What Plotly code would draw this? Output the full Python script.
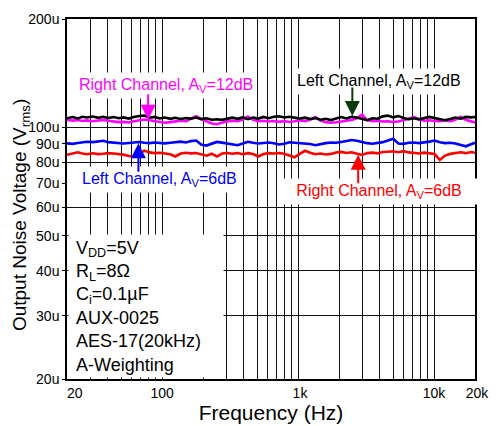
import plotly.graph_objects as go
import math

# ---------------- data ----------------
freq_hz = [20, 22, 24, 26, 28, 31, 34, 37, 40, 44, 48, 52, 57, 62, 68, 74, 81, 88, 96, 105,
           115, 125, 137, 150, 163, 178, 194, 212, 232, 253, 276, 301, 329, 359, 392, 428, 467, 510, 557, 608,
           664, 725, 791, 864, 943, 1030, 1124, 1227, 1340, 1463, 1597, 1744, 1904, 2078, 2269, 2477, 2705, 2953, 3224, 3520,
           3843, 4196, 4581, 5002, 5461, 5962, 6510, 7107, 7760, 8472, 9250, 10099, 11026, 12038, 13143, 14350, 15667, 17105, 18675, 20000]

left_12db_uv = [106.0, 106.8, 105.9, 107.0, 106.5, 107.2, 106.3, 107.0, 106.1, 106.8,
                106.0, 106.6, 105.8, 106.9, 107.5, 107.8, 106.4, 106.9, 105.9, 106.5,
                105.6, 106.3, 105.5, 106.2, 105.8, 106.5, 105.4, 106.0, 105.0, 105.3,
                104.9, 105.9, 106.4, 105.6, 106.6, 105.4, 106.5, 105.8, 106.9, 106.0,
                107.0, 107.3, 106.5, 107.0, 106.2, 105.8, 106.4, 105.5, 106.1, 105.0,
                105.6, 104.8, 105.9, 106.8, 105.9, 107.0, 106.5, 105.6, 104.7, 106.0,
                105.7, 107.3, 107.8, 106.6, 107.5, 106.2, 105.4, 106.0, 105.3, 106.2,
                106.9, 106.1, 105.2, 104.7, 105.5, 106.5, 105.7, 106.9, 106.6, 106.9]

right_12db_uv = [104.9, 104.4, 104.8, 104.2, 104.6, 104.0, 104.5, 104.9, 104.3, 103.9,
                 103.4, 103.6, 103.2, 104.0, 104.6, 105.2, 104.7, 104.0, 103.5, 103.0,
                 103.4, 104.1, 104.4, 104.0, 105.6, 107.4, 105.5, 103.9, 102.5, 102.0,
                 103.0, 104.0, 104.3, 104.0, 105.2, 107.2, 105.0, 104.0, 104.3, 103.8,
                 104.2, 103.6, 104.1, 103.5, 104.0, 104.6, 104.1, 105.0, 106.8, 104.5,
                 103.4, 103.0, 103.3, 103.9, 104.2, 104.8, 106.0, 108.6, 104.8, 104.0,
                 104.4, 103.8, 104.0, 103.5, 103.8, 104.5, 105.6, 106.9, 105.2, 104.4,
                 104.7, 104.2, 104.0, 104.5, 104.1, 105.0, 107.0, 105.0, 103.8, 103.2]

left_6db_uv = [90.3, 90.0, 90.5, 90.9, 91.2, 91.0, 91.4, 91.8, 91.0, 90.6,
               90.4, 90.2, 90.5, 90.7, 91.1, 90.6, 90.4, 90.8, 90.5, 90.3,
               90.6, 90.9, 91.3, 90.8, 91.6, 91.9, 89.6, 89.0, 90.2, 91.1,
               90.7, 90.3, 89.6, 89.2, 90.2, 91.2, 90.6, 90.2, 90.5, 90.8,
               90.3, 89.6, 90.0, 90.9, 90.6, 90.5, 90.3, 89.9, 89.2, 90.0,
               90.4, 90.8, 90.6, 91.1, 91.6, 92.2, 91.8, 91.0, 90.4, 90.1,
               90.6, 91.0, 92.0, 93.0, 90.2, 90.0, 90.6, 90.8, 90.4, 90.7,
               91.3, 91.9, 90.9, 90.4, 90.6, 90.2, 89.5, 88.6, 89.8, 90.6]

right_6db_uv = [83.9, 84.8, 85.3, 84.6, 84.2, 84.7, 84.3, 84.5, 84.8, 84.6,
                84.3, 84.0, 83.3, 82.8, 84.5, 86.2, 85.2, 84.8, 85.0, 84.6,
                84.2, 83.0, 84.6, 85.0, 84.7, 84.9, 84.3, 83.4, 84.5, 83.0,
                84.6, 84.9, 84.5, 84.9, 84.2, 84.8, 84.3, 83.0, 84.3, 84.8,
                84.6, 84.9, 84.5, 83.5, 82.6, 84.4, 86.1, 85.0, 84.2, 84.6,
                84.1, 84.4, 85.2, 85.5, 84.9, 85.3, 84.6, 83.8, 84.8, 85.1,
                84.7, 85.4, 85.6, 85.8, 85.3, 85.9, 85.2, 84.9, 84.6, 85.1,
                84.7, 84.3, 81.2, 83.5, 84.4, 84.9, 85.3, 84.8, 85.4, 85.0]

x_tick_vals = [20, 30, 40, 50, 60, 70, 80, 90, 100, 200, 300, 400, 500, 600, 700, 800, 900,
               1000, 2000, 3000, 4000, 5000, 6000, 7000, 8000, 9000, 10000, 20000]
x_tick_text = ["\u00a0\u00a0\u00a0\u00a020", "", "", "", "", "", "", "", "100", "", "", "", "", "", "", "", "",
               "\u00a01k", "", "", "", "", "", "", "", "", "10k", "\u00a020k"]
y_tick_vals = [20, 30, 40, 50, 60, 70, 80, 90, 100, 200]
y_tick_text = ["20u", "30u", "40u", "50u", "60u", "70u", "80u", "90u", "100u", "200u"]
y_grid_vals = [30, 40, 50, 60, 80, 100]

FONT = "Liberation Sans, Arial, sans-serif"

fig = go.Figure()
series = [
    (right_12db_uv, "#ff00ff", "Right Channel, AV=12dB"),
    (left_12db_uv, "#000000", "Left Channel, AV=12dB"),
    (left_6db_uv, "#0000ff", "Left Channel, AV=6dB"),
    (right_6db_uv, "#ff0000", "Right Channel, AV=6dB"),
]
for vals, col, name in series:
    fig.add_trace(go.Scatter(x=freq_hz, y=vals, mode="lines", name=name,
                             line=dict(color=col, width=2.6), showlegend=False))

fig.update_xaxes(type="log", range=[math.log10(20), math.log10(20000)],
                 tickmode="array", tickvals=x_tick_vals, ticktext=x_tick_text,
                 showgrid=True, gridcolor="#111111", gridwidth=1,
                 ticks="", tickfont=dict(family=FONT, size=14, color="black"),
                 showline=True, linecolor="black", linewidth=1.5, mirror=True,
                 zeroline=False,
                 title=dict(text="Frequency (Hz)", font=dict(family=FONT, size=21, color="black"), standoff=0))
fig.update_yaxes(type="log", range=[math.log10(20), math.log10(200)],
                 tickmode="array", tickvals=y_tick_vals, ticktext=y_tick_text,
                 showgrid=False, ticks="outside", ticklen=3, tickcolor="black",
                 tickfont=dict(family=FONT, size=14, color="black"),
                 minor=dict(tickmode="array", tickvals=y_grid_vals, showgrid=True,
                            gridcolor="#111111", gridwidth=1, ticks=""),
                 showline=True, linecolor="black", linewidth=1.5, mirror=True,
                 zeroline=False)

# y-axis title
fig.add_annotation(text="Output Noise Voltage (V<sub>rms</sub>)", textangle=-90,
                   x=-0.113, y=0.455, xref="paper", yref="paper", xanchor="center", yanchor="middle",
                   showarrow=False, font=dict(family=FONT, size=19, color="black"))

def label(text, x, y, color, xanchor="center"):
    fig.add_annotation(text=text, x=x, y=y, xref="paper", yref="paper", showarrow=False,
                       xanchor=xanchor, yanchor="middle", bgcolor="white", borderpad=3,
                       font=dict(family=FONT, size=16, color=color))

def arrow(f, v, ay, color):
    fig.add_annotation(text="", x=math.log10(f), y=math.log10(v), xref="x", yref="y",
                       showarrow=True, ax=0, ay=ay, arrowhead=2, arrowsize=1.5,
                       arrowwidth=2, arrowcolor=color)

label("Right Channel, A<sub>V</sub>=12dB", 0.243, 0.815, "#ff00ff")
label("Left Channel, A<sub>V</sub>=12dB", 0.764, 0.826, "black")
label("Left Channel, A<sub>V</sub>=6dB", 0.226, 0.553, "#0000ff")
label("\u00a0\u00a0\u00a0Right Channel, A<sub>V</sub>=6dB\u00a0\u00a0\u00a0", 0.764, 0.52, "#ff0000")

arrow(79, 105.0, -27, "#ff00ff")
arrow(2507, 107.6, -30, "#0a3a0a")
arrow(67, 90.3, 30, "#0000ff")
arrow(2768, 83.9, 30, "#ff0000")

box_lines = ["V<sub>DD</sub>=5V", "R<sub>L</sub>=8Ω", "C<sub>i</sub>=0.1µF",
             "AUX-0025", "AES-17(20kHz)", "A-Weighting"]
fig.add_annotation(text="<br>".join("\u00a0" + s for s in box_lines),
                   x=0.003, y=0.003, xref="paper", yref="paper", xanchor="left", yanchor="bottom",
                   showarrow=False, align="left", valign="middle", width=150, height=138,
                   borderpad=2, bgcolor="white",
                   font=dict(family=FONT, size=18, color="black"))

fig.update_layout(width=500, height=426, margin=dict(l=67, r=17, t=11, b=37),
                  paper_bgcolor="white", plot_bgcolor="white",
                  font=dict(family=FONT, color="black"))

fig.write_html("out.html")
